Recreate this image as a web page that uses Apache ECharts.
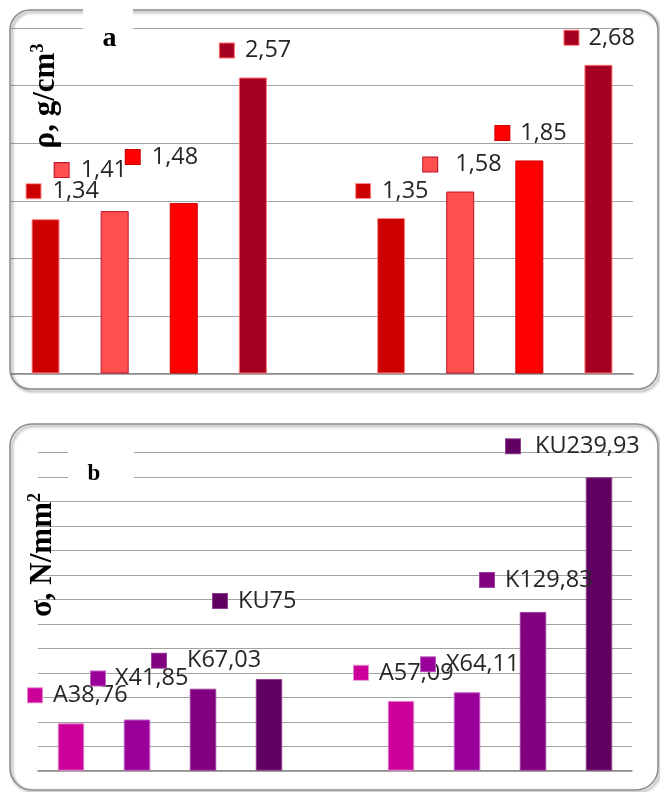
<!DOCTYPE html>
<html>
<head>
<meta charset="utf-8">
<script src="https://cdn.jsdelivr.net/npm/echarts@6/dist/echarts.min.js"></script>
<style>
  html, body { margin: 0; padding: 0; background: #ffffff; }
  #chart { width: 660px; height: 792px; }
</style>
</head>
<body>
<div id="chart"></div>
<script>
// Sample slots: two series of four samples, with an empty slot between them
const slots = ['A', 'X', 'K', 'KU', '', 'A', 'X', 'K', 'KU'];
const samples = ['A', 'X', 'K', 'KU'];

// (a) density, g/cm3
const densityLeft = [1.34, 1.41, 1.48, 2.57];
const densityRight = [1.35, 1.58, 1.85, 2.68];
const densityAxis = { min: 0, max: 3, interval: 0.5 };

// (b) strength, N/mm2
const strengthLeft = [38.76, 41.85, 67.03, 75];
const strengthRight = [57.09, 64.11, 129.83, 239.93];
const strengthAxis = { min: 0, max: 260, interval: 20 };

// Styling
const redFill = ['#CC0000', '#FF5050', '#FF0000', '#A50021'];
const redEdge = ['#FF8C8C', '#C0102A', '#D00000', '#FF6E6E'];
const purpleFill = ['#CC0099', '#990099', '#800080', '#600060'];
const purpleEdge = ['#E38AD0', '#C060C0', '#A040A0', '#904090'];

// Label placement relative to the top centre of each bar: [dx, dy]
const densityLabelShift = [[-19, -28], [-60, -41], [-58, -46], [-33, -27], [-35, -27], [-37, -27], [-34, -27.5], [-34, -27]];
const densityLabelGap = [12, 12, 12, 11, 12, 18, 11, 10];
const strengthLabelShift = [[-43, -28], [-46, -41], [-51, -28], [-56, -78], [-47, -28], [-46, -28], [-53, -32], [-93, -31]];
const strengthLabelGap = [11, 10, 21, 11, 11, 11, 11, 15];

const labelFont = '"Open Sans", "Noto Sans", sans-serif';
const titleFont = '"Liberation Serif", "DejaVu Serif", serif';

function decimalComma(v) {
  return String(v).replace('.', ',');
}

function buildItems(left, right, fills, edges, shifts, gaps, withName) {
  const values = left.concat([null], right);
  const items = [];
  let k = 0;
  values.forEach(function (v, i) {
    if (v === null) { items.push('-'); return; }
    const s = i < 4 ? i : i - 5;
    const text = (withName ? samples[s] : '') + decimalComma(v);
    items.push({
      value: v,
      itemStyle: { color: fills[s], borderColor: edges[s], borderWidth: 1 },
      label: {
        show: true,
        position: 'top',
        distance: 0,
        align: 'left',
        verticalAlign: 'middle',
        offset: shifts[k],
        formatter: '{sq| }{t|' + text + '}',
        rich: {
          sq: { width: 14, height: 14, backgroundColor: fills[s], borderColor: edges[s], borderWidth: 1, verticalAlign: 'middle' },
          t: { fontFamily: labelFont, fontSize: 23.5, color: '#262626', padding: [0, 0, 0, gaps[k]], verticalAlign: 'middle', lineHeight: 26 }
        }
      }
    });
    k++;
  });
  return items;
}

const chart = echarts.init(document.getElementById('chart'), null, { renderer: 'canvas' });

const axisX = function (gridIndex) {
  return {
    type: 'category',
    gridIndex: gridIndex,
    data: slots,
    boundaryGap: true,
    axisLine: { show: true, lineStyle: { color: '#868686', width: 1.5 } },
    axisTick: { show: false },
    axisLabel: { show: false },
    splitLine: { show: false }
  };
};
const axisY = function (gridIndex, range) {
  return {
    type: 'value',
    gridIndex: gridIndex,
    min: range.min,
    max: range.max,
    interval: range.interval,
    axisLine: { show: false },
    axisTick: { show: false },
    axisLabel: { show: false },
    splitLine: { show: true, lineStyle: { color: '#a3a3a3', width: 1 } }
  };
};

chart.setOption({
  animation: false,
  backgroundColor: '#ffffff',
  grid: [
    { left: 11, top: 28, width: 622, height: 345.5 },
    { left: 38, top: 452.7, width: 594, height: 318 }
  ],
  xAxis: [axisX(0), axisX(1)],
  yAxis: [axisY(0, densityAxis), axisY(1, strengthAxis)],
  series: [
    {
      type: 'bar',
      xAxisIndex: 0,
      yAxisIndex: 0,
      barWidth: 28,
      data: buildItems(densityLeft, densityRight, redFill, redEdge, densityLabelShift, densityLabelGap, false)
    },
    {
      type: 'bar',
      xAxisIndex: 1,
      yAxisIndex: 1,
      barWidth: 26.5,
      data: buildItems(strengthLeft, strengthRight, purpleFill, purpleEdge, strengthLabelShift, strengthLabelGap, true)
    }
  ],
  graphic: [
    // panel frames
    {
      type: 'rect', z: 1,
      shape: { x: 10, y: 10, width: 648, height: 379, r: 20 },
      style: { fill: 'none', stroke: '#8c8c8c', lineWidth: 1.5, shadowBlur: 3, shadowOffsetX: 2, shadowOffsetY: 2, shadowColor: 'rgba(0,0,0,0.45)' }
    },
    {
      type: 'rect', z: 1,
      shape: { x: 10, y: 424, width: 648, height: 366, r: 22 },
      style: { fill: 'none', stroke: '#8c8c8c', lineWidth: 1.5, shadowBlur: 3, shadowOffsetX: 2, shadowOffsetY: 2, shadowColor: 'rgba(0,0,0,0.45)' }
    },
    // panel letters on white tabs
    { type: 'rect', z: 20, shape: { x: 83, y: 3, width: 50, height: 44 }, style: { fill: '#ffffff' } },
    { type: 'text', z: 21, x: 109.5, y: 39, style: { text: 'a', align: 'center', verticalAlign: 'middle', font: 'bold 28px ' + titleFont, fill: '#000' } },
    { type: 'rect', z: 20, shape: { x: 68, y: 440, width: 66, height: 50 }, style: { fill: '#ffffff' } },
    { type: 'text', z: 21, x: 94, y: 474, style: { text: 'b', align: 'center', verticalAlign: 'middle', font: 'bold 23px ' + titleFont, fill: '#000' } },
    // axis titles
    {
      type: 'text', z: 21, x: 45, y: 96, rotation: Math.PI / 2,
      style: {
        text: '{m|ρ, g/cm}{s|3}', align: 'center', verticalAlign: 'middle',
        rich: {
          m: { fontFamily: titleFont, fontWeight: 'bold', fontSize: 31, fill: '#000', lineHeight: 32, verticalAlign: 'bottom' },
          s: { fontFamily: titleFont, fontWeight: 'bold', fontSize: 18, fill: '#000', lineHeight: 32, verticalAlign: 'top' }
        }
      }
    },
    {
      type: 'text', z: 21, x: 42, y: 555, rotation: Math.PI / 2,
      style: {
        text: '{m|σ, N/mm}{s|2}', align: 'center', verticalAlign: 'middle',
        rich: {
          m: { fontFamily: titleFont, fontWeight: 'bold', fontSize: 31, fill: '#000', lineHeight: 32, verticalAlign: 'bottom' },
          s: { fontFamily: titleFont, fontWeight: 'bold', fontSize: 18, fill: '#000', lineHeight: 32, verticalAlign: 'top' }
        }
      }
    }
  ]
});
</script>
</body>
</html>
